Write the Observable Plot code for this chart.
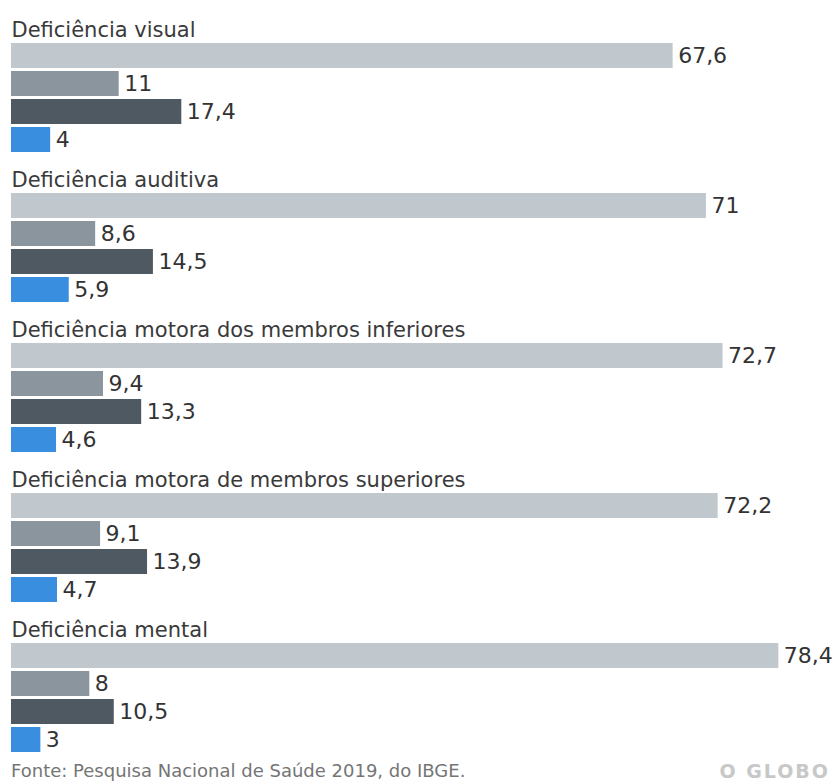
<!DOCTYPE html>
<html>
<head>
<meta charset="utf-8">
<script src="https://cdn.jsdelivr.net/npm/d3@7"></script>
<script src="https://cdn.jsdelivr.net/npm/@observablehq/plot@0.6"></script>
<style>
  html, body { margin: 0; padding: 0; background: #fff; }
  #wrap { width: 837px; font-family: "DejaVu Sans", sans-serif; }
  #chart svg { display: block; }
  #footer { display: flex; justify-content: space-between; align-items: center; padding: 2px 7px 0 11px; height: 25px; }
  #source { font-size: 18px; color: #757575; }
  #brand { font-size: 19px; color: #c8c8c8; font-weight: bold; letter-spacing: 2px; }
</style>
</head>
<body>
<div id="wrap">
  <div id="chart"></div>
  <div id="footer">
    <span id="source">Fonte: Pesquisa Nacional de Saúde 2019, do IBGE.</span>
    <span id="brand">O GLOBO</span>
  </div>
</div>
<script>
const groups = [
  "Deficiência visual",
  "Deficiência auditiva",
  "Deficiência motora dos membros inferiores",
  "Deficiência motora de membros superiores",
  "Deficiência mental"
];
const series = ["Série 1", "Série 2", "Série 3", "Série 4"];
const serie1 = [67.6, 71, 72.7, 72.2, 78.4];
const serie2 = [11, 8.6, 9.4, 9.1, 8];
const serie3 = [17.4, 14.5, 13.3, 13.9, 10.5];
const serie4 = [4, 5.9, 4.6, 4.7, 3];
const colors = ["#c1c8cd", "#8b959d", "#4f5962", "#3a8ee0"];

const valuesBySeries = [serie1, serie2, serie3, serie4];
const data = [];
groups.forEach((g, i) => {
  series.forEach((s, j) => {
    data.push({group: g, serie: s, value: valuesBySeries[j][i]});
  });
});
const fmt = v => v.toLocaleString("pt-BR");

const chart = Plot.plot({
  width: 837,
  height: 756,
  marginLeft: 11,
  marginRight: 43,
  marginTop: 42,
  marginBottom: 4,
  facet: {marginTop: 0, marginBottom: 0, marginLeft: 0, marginRight: 0},
  style: {fontFamily: "DejaVu Sans, sans-serif", background: "#fff"},
  x: {domain: [0, 80], axis: null},
  y: {domain: series, paddingInner: 0.11, paddingOuter: 0, axis: null},
  fy: {domain: groups, paddingInner: 40 / 150, paddingOuter: 0, axis: null},
  color: {domain: series, range: colors},
  marks: [
    Plot.barX(data, {x: "value", y: "serie", fy: "group", fill: "serie"}),
    Plot.text(data, {
      x: "value", y: "serie", fy: "group", text: d => fmt(d.value),
      textAnchor: "start", dx: 5, fontSize: 22, fill: "#333"
    }),
    Plot.text(groups, {
      fy: d => d, text: d => d, frameAnchor: "top-left",
      lineAnchor: "bottom", dy: -6, fontSize: 21, fill: "#3a3a3a"
    })
  ]
});
document.getElementById("chart").appendChild(chart);
</script>
</body>
</html>
